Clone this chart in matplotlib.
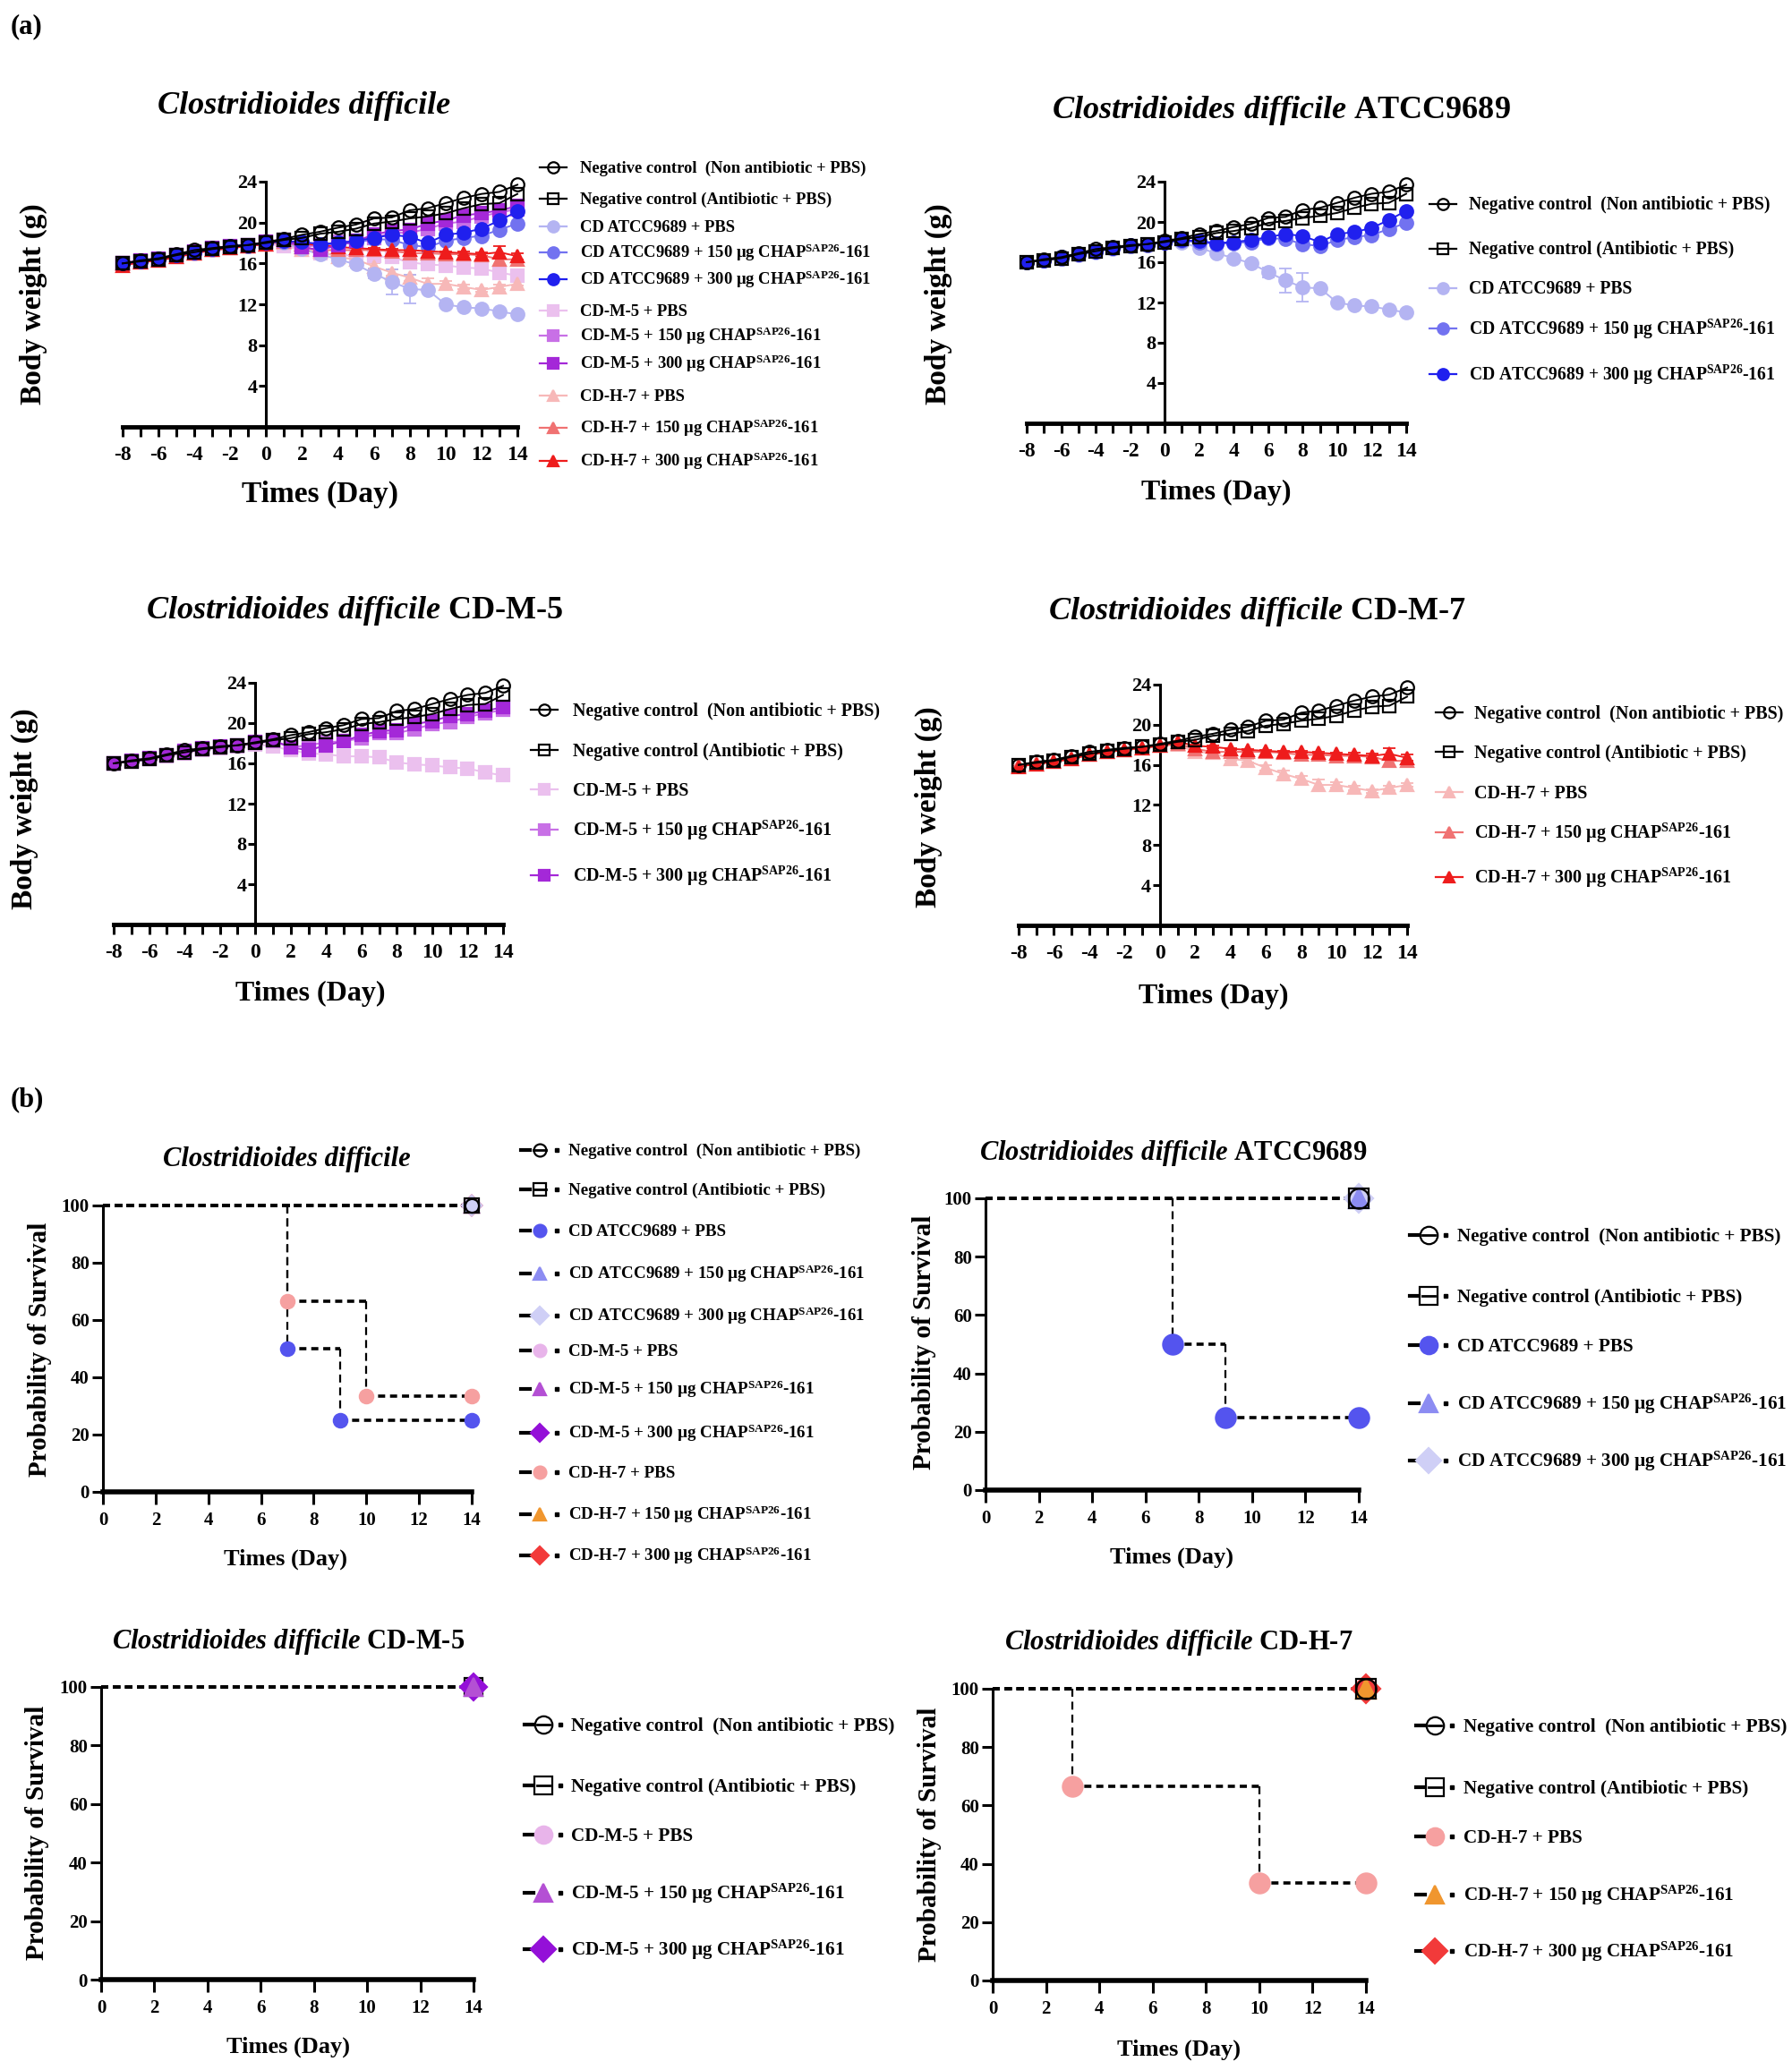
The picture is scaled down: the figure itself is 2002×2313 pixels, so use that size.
import matplotlib
matplotlib.use("Agg")
import matplotlib.pyplot as plt
from matplotlib.lines import Line2D

plt.rcParams['font.family'] = ['Liberation Serif', 'DejaVu Serif']
plt.rcParams['font.weight'] = 'bold'
plt.rcParams['mathtext.fontset'] = 'custom'
plt.rcParams['mathtext.rm'] = 'Liberation Serif:bold'
plt.rcParams['mathtext.it'] = 'Liberation Serif:bold:italic'
plt.rcParams['mathtext.bf'] = 'Liberation Serif:bold'
plt.rcParams['mathtext.default'] = 'regular'
plt.rcParams['axes.unicode_minus'] = False

W, H = 2002, 2313

# ---------------- data ----------------
days = list(range(-8, 15))

wt_neg_nonab = [16.0, 16.3, 16.5, 16.9, 17.3, 17.5, 17.7, 17.8, 18.1, 18.4, 18.8, 19.1,
                19.5, 19.8, 20.4, 20.5, 21.2, 21.4, 21.9, 22.4, 22.8, 23.0, 23.7]
wt_neg_ab = [16.0, 16.2, 16.4, 16.8, 17.1, 17.4, 17.6, 17.8, 18.0, 18.3, 18.5, 18.9,
             19.1, 19.4, 19.9, 20.1, 20.4, 20.6, 20.9, 21.4, 21.8, 21.9, 22.8]
wt_atcc_pbs = [16.0, 16.2, 16.4, 16.7, 17.0, 17.3, 17.6, 17.7, 18.0, 18.0, 17.4, 16.9,
               16.4, 15.9, 15.0, 14.2, 13.5, 13.4, 12.0, 11.7, 11.6, 11.3, 11.0]
wt_atcc_150 = [16.0, 16.2, 16.4, 16.8, 17.1, 17.4, 17.6, 17.7, 18.0, 18.1, 18.0, 17.8,
               17.9, 18.0, 18.4, 18.3, 17.8, 17.6, 18.2, 18.5, 18.7, 19.3, 19.9]
wt_atcc_300 = [16.0, 16.2, 16.5, 16.8, 17.1, 17.4, 17.7, 17.8, 18.0, 18.2, 18.1, 17.9,
               18.0, 18.2, 18.5, 18.8, 18.6, 18.0, 18.8, 19.0, 19.4, 20.2, 21.1]
wt_m5_pbs = [16.0, 16.2, 16.4, 16.7, 17.0, 17.3, 17.5, 17.7, 17.9, 17.7, 17.3, 17.0,
             16.9, 16.7, 16.7, 16.6, 16.1, 15.9, 15.8, 15.6, 15.5, 15.1, 14.8]
wt_m5_150 = [16.0, 16.2, 16.4, 16.8, 17.1, 17.4, 17.6, 17.8, 18.0, 18.2, 17.6, 17.8,
             18.1, 18.2, 18.5, 19.0, 19.0, 19.4, 19.9, 20.1, 20.6, 21.0, 21.3]
wt_m5_300 = [16.0, 16.3, 16.5, 16.8, 17.2, 17.5, 17.7, 17.8, 18.1, 18.3, 17.6, 17.3,
             17.8, 18.2, 18.8, 19.2, 19.3, 19.9, 20.2, 20.7, 20.9, 21.2, 21.6]
wt_h7_pbs = [16.0, 16.2, 16.4, 16.7, 17.0, 17.3, 17.5, 17.7, 17.9, 18.0, 17.3, 17.2,
             16.6, 16.4, 15.7, 15.1, 14.6, 14.0, 14.0, 13.7, 13.4, 13.7, 14.0]
wt_h7_150 = [15.9, 16.1, 16.3, 16.6, 17.0, 17.3, 17.5, 17.7, 17.9, 18.1, 17.6, 17.3,
             17.3, 17.3, 17.3, 17.2, 17.0, 17.0, 16.9, 16.9, 16.8, 16.4, 16.4]
wt_h7_300 = [15.8, 16.1, 16.3, 16.6, 17.0, 17.3, 17.5, 17.7, 17.9, 18.3, 17.9, 17.8,
             17.6, 17.5, 17.4, 17.3, 17.3, 17.2, 17.1, 17.0, 16.9, 17.1, 16.7]

sd_atcc_pbs = [0.1, 0.1, 0.1, 0.1, 0.1, 0.1, 0.1, 0.1, 0.1, 0.1, 0.2, 0.2,
               0.2, 0.3, 0.5, 1.2, 1.4, 0.3, 0.2, 0.2, 0.2, 0.2, 0.2]
sd_h7_pbs = [0.1, 0.1, 0.1, 0.1, 0.1, 0.1, 0.1, 0.1, 0.1, 0.1, 0.2, 0.2,
             0.2, 0.2, 0.3, 0.3, 0.3, 0.5, 0.3, 0.2, 0.2, 0.2, 0.2]
sd_h7_300 = [0.1, 0.1, 0.1, 0.1, 0.1, 0.1, 0.1, 0.1, 0.1, 0.1, 0.1, 0.1,
             0.1, 0.1, 0.1, 0.1, 0.1, 0.1, 0.1, 0.2, 0.2, 0.6, 0.3]

# survival (Kaplan-Meier steps): event days and % survival
surv_flat_t = [0, 14]
surv_flat_s = [100, 100]
surv_atcc_pbs_t = [0, 7, 9, 14]
surv_atcc_pbs_s = [100, 50, 25, 25]
surv_h7_pbs_all_t = [0, 7, 10, 14]
surv_h7_pbs_all_s = [100, 66.7, 33.3, 33.3]
surv_h7_pbs_t = [0, 3, 10, 14]
surv_h7_pbs_s = [100, 66.7, 33.3, 33.3]

groups = ['neg_nonab', 'neg_ab', 'atcc_pbs', 'atcc_150', 'atcc_300',
          'm5_pbs', 'm5_150', 'm5_300', 'h7_pbs', 'h7_150', 'h7_300']
group_labels = [
    "Negative control  (Non antibiotic + PBS)",
    "Negative control (Antibiotic + PBS)",
    "CD ATCC9689 + PBS",
    "CD ATCC9689 + 150 µg CHAP$^{SAP26}$-161",
    "CD ATCC9689 + 300 µg CHAP$^{SAP26}$-161",
    "CD-M-5 + PBS",
    "CD-M-5 + 150 µg CHAP$^{SAP26}$-161",
    "CD-M-5 + 300 µg CHAP$^{SAP26}$-161",
    "CD-H-7 + PBS",
    "CD-H-7 + 150 µg CHAP$^{SAP26}$-161",
    "CD-H-7 + 300 µg CHAP$^{SAP26}$-161",
]
LABEL = dict(zip(groups, group_labels))

WEIGHT = {'neg_nonab': wt_neg_nonab, 'neg_ab': wt_neg_ab,
          'atcc_pbs': wt_atcc_pbs, 'atcc_150': wt_atcc_150, 'atcc_300': wt_atcc_300,
          'm5_pbs': wt_m5_pbs, 'm5_150': wt_m5_150, 'm5_300': wt_m5_300,
          'h7_pbs': wt_h7_pbs, 'h7_150': wt_h7_150, 'h7_300': wt_h7_300}
SD = {'atcc_pbs': sd_atcc_pbs, 'h7_pbs': sd_h7_pbs, 'h7_300': sd_h7_300}

# ---------------- styles ----------------
W_STYLE = {
    'neg_nonab': ('o', 'none', 'k'),
    'neg_ab': ('s', 'none', 'k'),
    'atcc_pbs': ('o', '#B4B4F2', '#B4B4F2'),
    'atcc_150': ('o', '#7272F0', '#7272F0'),
    'atcc_300': ('o', '#2020EE', '#2020EE'),
    'm5_pbs': ('s', '#EBC0EE', '#EBC0EE'),
    'm5_150': ('s', '#C870E6', '#C870E6'),
    'm5_300': ('s', '#A428D8', '#A428D8'),
    'h7_pbs': ('^', '#F7B8B8', '#F7B8B8'),
    'h7_150': ('^', '#F07272', '#F07272'),
    'h7_300': ('^', '#EE1C1C', '#EE1C1C'),
}
S_STYLE = {
    'neg_nonab': ('o', 'none', 'k'),
    'neg_ab': ('s', 'none', 'k'),
    'atcc_pbs': ('o', '#5454EE', '#5454EE'),
    'atcc_150': ('^', '#8C8CF2', '#8C8CF2'),
    'atcc_300': ('D', '#CFCFF6', '#CFCFF6'),
    'm5_pbs': ('o', '#E8B4EA', '#E8B4EA'),
    'm5_150': ('^', '#B450D4', '#B450D4'),
    'm5_300': ('D', '#9410D8', '#9410D8'),
    'h7_pbs': ('o', '#F6A0A0', '#F6A0A0'),
    'h7_150': ('^', '#F0962E', '#F0962E'),
    'h7_300': ('D', '#F23A3A', '#F23A3A'),
}
DRAW_ORDER = ['m5_pbs', 'h7_pbs', 'atcc_pbs', 'h7_150', 'm5_150', 'atcc_150',
              'h7_300', 'm5_300', 'atcc_300', 'neg_ab', 'neg_nonab']

fig = plt.figure(figsize=(W / 100, H / 100), dpi=100)


def px_axes(x0, x1, y0, y1):
    return fig.add_axes([x0 / W, 1 - y1 / H, (x1 - x0) / W, (y1 - y0) / H])


def put_text(x, y, s, size, ha='left', **kw):
    fig.text(x / W, 1 - (y + 0.33 * size * 100 / 72) / H, s, fontsize=size,
             ha=ha, va='baseline', **kw)


def put_ylabel(x, y, s, size):
    fig.text(x / W, 1 - y / H, s, fontsize=size, rotation=90, ha='center', va='center')


def legend_rows(xm, xt, ys, keys, size, style, ms, survival=False):
    for y, k in zip(ys, keys):
        mk, face, col = style[k]
        yy = 1 - y / H
        if survival:
            fig.add_artist(Line2D([(xm - 21) / W, (xm - 11) / W], [yy, yy], color='k', lw=3))
            fig.add_artist(Line2D([(xm + 19) / W], [yy], marker='s', ms=3, color='k', ls='none'))
            if face == 'none':
                fig.add_artist(Line2D([(xm - 7) / W, (xm + 7) / W], [yy, yy], color='k', lw=2))
        else:
            fig.add_artist(Line2D([(xm - 15) / W, (xm + 15) / W], [yy, yy], color=col, lw=1.6))
        fig.add_artist(Line2D([xm / W], [yy], marker=mk, ms=ms, mfc=face, mec=col,
                              mew=1.6, ls='none'))
        put_text(xt, y, LABEL[k], size)


def weight_panel(box, keys):
    ax = px_axes(*box)
    for k in DRAW_ORDER:
        if k not in keys:
            continue
        mk, face, col = W_STYLE[k]
        if k in SD:
            ax.errorbar(days, WEIGHT[k], yerr=SD[k], fmt='none', ecolor=col,
                        elinewidth=1.3, capsize=5, capthick=1.3, clip_on=False, zorder=2)
        ax.plot(days, WEIGHT[k], color=col, lw=1.4, marker=mk, ms=10.5, mfc=face,
                mec=col, mew=1.6, clip_on=False, zorder=3)
    ax.set_xlim(-8, 14)
    ax.set_ylim(0, 24)
    ax.spines['top'].set_visible(False)
    ax.spines['right'].set_visible(False)
    ax.spines['left'].set_position(('data', 0))
    ax.spines['left'].set_linewidth(2.2)
    ax.spines['bottom'].set_linewidth(3.5)
    ax.set_xticks(range(-8, 15, 2))
    ax.set_xticks(range(-8, 15), minor=True)
    ax.set_yticks(range(4, 25, 4))
    ax.tick_params(axis='x', which='both', length=8, width=2.2, pad=7, labelsize=17)
    ax.tick_params(axis='y', length=6, width=2.2, pad=1, labelsize=16)
    ax.patch.set_alpha(0)
    return ax


def km_steps(ax, t, s):
    for i in range(len(t) - 1):
        ax.plot([t[i], t[i + 1]], [s[i], s[i]], color='k', lw=2.6,
                ls=(0, (2.2, 1.5)), clip_on=False, zorder=2)
        if s[i + 1] != s[i]:
            ax.plot([t[i + 1], t[i + 1]], [s[i], s[i + 1]], color='k', lw=1.6,
                    ls=(0, (4, 2.5)), clip_on=False, zorder=2)


def survival_panel(box, curves, ms):
    ax = px_axes(*box)
    for k, t, s in curves:
        km_steps(ax, t, s)
    for k, t, s in curves:
        mk, face, col = S_STYLE[k]
        ax.plot(t[1:], s[1:], ls='none', marker=mk, ms=ms, mfc=face, mec=col,
                mew=1.6, clip_on=False, zorder=4)
    ax.set_xlim(0, 14)
    ax.set_ylim(0, 100)
    ax.spines['top'].set_visible(False)
    ax.spines['right'].set_visible(False)
    ax.spines['left'].set_linewidth(2.2)
    ax.spines['bottom'].set_linewidth(4)
    ax.set_xticks(range(0, 15, 2))
    ax.set_yticks(range(0, 101, 20))
    ax.tick_params(axis='x', length=10, width=2.2, pad=6, labelsize=15)
    ax.tick_params(axis='y', length=9, width=2.2, pad=2, labelsize=15)
    ax.patch.set_alpha(0)
    return ax


# ---------------- panel (a): body weight ----------------
put_text(12, 27, "(a)", 22)
put_text(12, 1226, "(b)", 22)

atcc_keys = ['neg_nonab', 'neg_ab', 'atcc_pbs', 'atcc_150', 'atcc_300']
m5_keys = ['neg_nonab', 'neg_ab', 'm5_pbs', 'm5_150', 'm5_300']
h7_keys = ['neg_nonab', 'neg_ab', 'h7_pbs', 'h7_150', 'h7_300']

weight_panel((137, 578, 203, 477), groups)
put_text(340, 115, "Clostridioides difficile", 26, ha='center', style='italic')
put_ylabel(37, 340, "Body weight (g)", 24)
put_text(357, 550, "Times (Day)", 24, ha='center')
legend_rows(618, 648, [187, 222, 253, 282, 312, 347, 375, 406, 442, 478, 515],
            groups, 13.4, W_STYLE, 9)

weight_panel((1147, 1571, 203, 473), atcc_keys)
put_text(1431, 120, r"$\mathit{Clostridioides\ difficile}$ ATCC9689", 26, ha='center')
put_ylabel(1048, 340, "Body weight (g)", 24)
put_text(1359, 547, "Times (Day)", 23, ha='center')
legend_rows(1612, 1641, [228, 278, 322, 367, 418], atcc_keys, 14.1, W_STYLE, 9)

weight_panel((127, 562, 763, 1033), m5_keys)
put_text(396, 679, r"$\mathit{Clostridioides\ difficile}$ CD-M-5", 26, ha='center')
put_ylabel(27, 904, "Body weight (g)", 24)
put_text(347, 1107, "Times (Day)", 23, ha='center')
legend_rows(608, 640, [793, 838, 882, 927, 978], m5_keys, 14.4, W_STYLE, 9)

weight_panel((1138, 1572, 765, 1034), h7_keys)
put_text(1405, 680, r"$\mathit{Clostridioides\ difficile}$ CD-M-7", 26, ha='center')
put_ylabel(1037, 902, "Body weight (g)", 24)
put_text(1356, 1110, "Times (Day)", 23, ha='center')
legend_rows(1619, 1647, [796, 840, 885, 930, 980], h7_keys, 14.5, W_STYLE, 9)

# ---------------- panel (b): survival ----------------
flat = lambda k: (k, surv_flat_t, surv_flat_s)

survival_panel((115, 527, 1347, 1667),
               [flat('m5_pbs'), flat('m5_150'), flat('m5_300'), flat('h7_150'),
                flat('h7_300'), flat('atcc_150'), flat('atcc_300'), flat('neg_nonab'),
                flat('neg_ab'),
                ('atcc_pbs', surv_atcc_pbs_t, surv_atcc_pbs_s),
                ('h7_pbs', surv_h7_pbs_all_t, surv_h7_pbs_all_s)], 11)
put_text(320, 1293, "Clostridioides difficile", 22, ha='center', style='italic')
put_ylabel(45, 1508, "Probability of Survival", 21)
put_text(319, 1740, "Times (Day)", 19, ha='center')
legend_rows(603, 635, [1285, 1329, 1375, 1423, 1470, 1509, 1552, 1601, 1645, 1692, 1738],
            groups, 13.7, S_STYLE, 10, survival=True)

survival_panel((1101, 1518, 1339, 1665),
               [flat('atcc_300'), flat('atcc_150'), flat('neg_nonab'), flat('neg_ab'),
                ('atcc_pbs', surv_atcc_pbs_t, surv_atcc_pbs_s)], 16)
put_text(1311, 1286, r"$\mathit{Clostridioides\ difficile}$ ATCC9689", 22, ha='center')
put_ylabel(1032, 1500, "Probability of Survival", 21)
put_text(1309, 1738, "Times (Day)", 19, ha='center')
legend_rows(1596, 1628, [1380, 1448, 1503, 1568, 1632], atcc_keys, 15.2, S_STYLE, 14,
            survival=True)

survival_panel((113, 529, 1885, 2212),
               [flat('neg_nonab'), flat('neg_ab'), flat('m5_pbs'), flat('m5_300'),
                flat('m5_150')], 15)
put_text(322, 1832, r"$\mathit{Clostridioides\ difficile}$ CD-M-5", 22, ha='center')
put_ylabel(42, 2048, "Probability of Survival", 21)
put_text(322, 2285, "Times (Day)", 19, ha='center')
legend_rows(607, 638, [1927, 1995, 2050, 2115, 2178], m5_keys, 15.2, S_STYLE, 14,
            survival=True)

survival_panel((1109, 1526, 1887, 2213),
               [flat('h7_300'), flat('h7_150'), flat('neg_nonab'), flat('neg_ab'),
                ('h7_pbs', surv_h7_pbs_t, surv_h7_pbs_s)], 16)
put_text(1317, 1833, r"$\mathit{Clostridioides\ difficile}$ CD-H-7", 22, ha='center')
put_ylabel(1038, 2050, "Probability of Survival", 21)
put_text(1317, 2288, "Times (Day)", 19, ha='center')
legend_rows(1603, 1635, [1928, 1997, 2052, 2117, 2180], h7_keys, 15.2, S_STYLE, 14,
            survival=True)

fig.savefig("out.png", dpi=100, facecolor='white')
